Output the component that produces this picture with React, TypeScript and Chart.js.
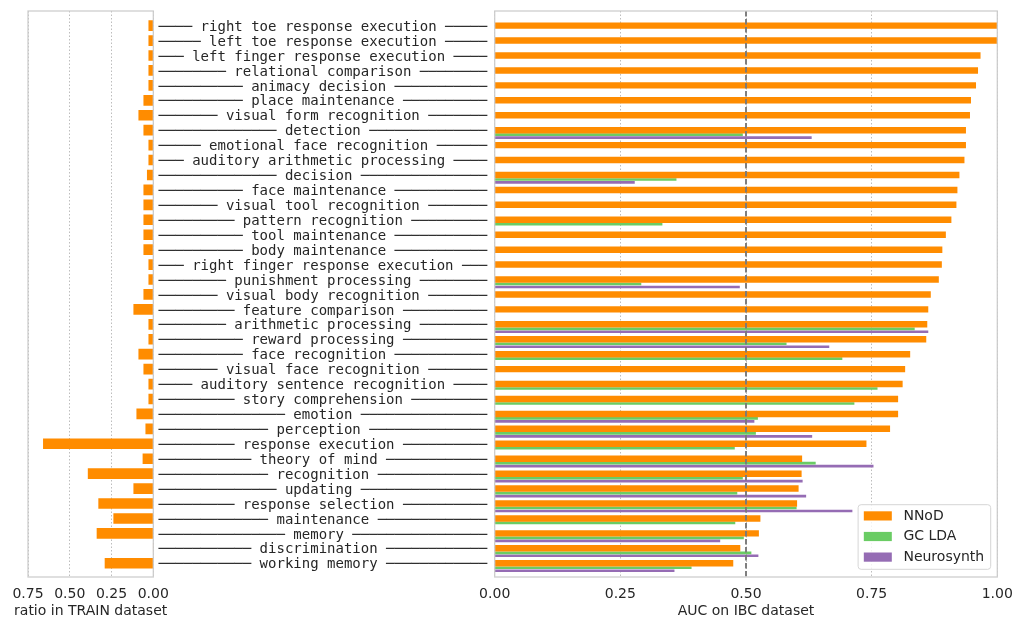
import React, { useEffect, useRef } from "react";
import { Chart, registerables } from "chart.js";

Chart.register(...registerables);

const categories = [
  "right toe response execution",
  "left toe response execution",
  "left finger response execution",
  "relational comparison",
  "animacy decision",
  "place maintenance",
  "visual form recognition",
  "detection",
  "emotional face recognition",
  "auditory arithmetic processing",
  "decision",
  "face maintenance",
  "visual tool recognition",
  "pattern recognition",
  "tool maintenance",
  "body maintenance",
  "right finger response execution",
  "punishment processing",
  "visual body recognition",
  "feature comparison",
  "arithmetic processing",
  "reward processing",
  "face recognition",
  "visual face recognition",
  "auditory sentence recognition",
  "story comprehension",
  "emotion",
  "perception",
  "response execution",
  "theory of mind",
  "recognition",
  "updating",
  "response selection",
  "maintenance",
  "memory",
  "discrimination",
  "working memory",
];

const trainRatio = [
  0.027, 0.027, 0.027, 0.027, 0.027, 0.057, 0.087, 0.057, 0.027, 0.027,
  0.036, 0.057, 0.057, 0.057, 0.057, 0.057, 0.027, 0.027, 0.057, 0.117,
  0.027, 0.027, 0.087, 0.057, 0.027, 0.027, 0.099, 0.045, 0.658, 0.062,
  0.39, 0.117, 0.327, 0.237, 0.337, 0.0, 0.289,
];

const nnod = [
  1.0, 1.0, 0.966, 0.961, 0.957, 0.947, 0.945, 0.937, 0.937, 0.934,
  0.924, 0.92, 0.918, 0.908, 0.897, 0.89, 0.889, 0.883, 0.867, 0.862,
  0.86, 0.858, 0.826, 0.816, 0.811, 0.802, 0.802, 0.786, 0.739, 0.611,
  0.61, 0.604, 0.601, 0.528, 0.525, 0.488, 0.474,
];

const gclda: (number | null)[] = [
  null, null, null, null, null, null, null, 0.493, null, null,
  0.361, null, null, 0.333, null, null, null, 0.291, null, null,
  0.835, 0.58, 0.691, null, 0.761, 0.715, 0.523, 0.519, 0.477, 0.638,
  0.493, 0.482, 0.6, 0.478, 0.495, 0.51, 0.391,
];

const neurosynth: (number | null)[] = [
  null, null, null, null, null, null, null, 0.63, null, null,
  0.278, null, null, null, null, null, null, 0.487, null, null,
  0.862, 0.665, null, null, null, null, 0.516, 0.631, null, 0.753,
  0.612, 0.619, 0.711, null, 0.448, 0.524, 0.357,
];

const trainTicks = [0, 0.25, 0.5, 0.75];
const aucTicks = [0, 0.25, 0.5, 0.75, 1.0];
const chanceLevel = 0.5;
const seriesNames = ["NNoD", "GC LDA", "Neurosynth"];
const seriesColors = ["#ff8c00", "#6acc64", "#956cb4"];
const seriesOffsets = [0, 0.3, 0.5];
const seriesThickness = [5.8, 2, 2];
const leftTitle = "ratio in TRAIN dataset";
const rightTitle = "AUC on IBC dataset";

const TEXT = "#262626";
const FRAME = "#cccccc";
const GRID = "#bdbdbd";
const Y_MIN = -0.98;
const Y_MAX = 36.92;
const LABEL_WIDTH = 39;

function padLabel(s: string) {
  const core = " " + s + " ";
  const pad = Math.max(0, LABEL_WIDTH - core.length);
  const l = Math.floor(pad / 2);
  return "\u2500".repeat(l) + core + "\u2500".repeat(pad - l);
}

const framePlugin = {
  id: "frame",
  afterDatasetsDraw(chart: any) {
    const { ctx, chartArea: a } = chart;
    const opts = chart.options.plugins.frame || {};
    ctx.save();
    if (opts.chance !== undefined) {
      const x = chart.scales.x.getPixelForValue(opts.chance);
      ctx.strokeStyle = "#7a7a7a";
      ctx.lineWidth = 1.9;
      ctx.setLineDash([5.6, 2.4]);
      ctx.beginPath();
      ctx.moveTo(x, a.top);
      ctx.lineTo(x, a.bottom);
      ctx.stroke();
      ctx.setLineDash([]);
    }
    ctx.strokeStyle = FRAME;
    ctx.lineWidth = 1.25;
    ctx.strokeRect(a.left, a.top, a.right - a.left, a.bottom - a.top);
    ctx.font = '14px "DejaVu Sans"';
    ctx.fillStyle = TEXT;
    if (opts.title) {
      ctx.textAlign = "center";
      ctx.textBaseline = "middle";
      ctx.fillText(opts.title, (a.left + a.right) / 2, 611.5);
    }
    if (opts.legend) {
      const textW = Math.max(...seriesNames.map((n) => ctx.measureText(n).width));
      const boxW = 5.7 + 28 + 11.6 + textW + 6.5;
      const boxH = 64.6;
      const right = a.right - 6.6;
      const bottom = a.bottom - 7.7;
      const left = right - boxW;
      const top = bottom - boxH;
      ctx.beginPath();
      ctx.roundRect(left, top, boxW, boxH, 3);
      ctx.fillStyle = "rgba(255,255,255,0.8)";
      ctx.fill();
      ctx.strokeStyle = "#d6d6d6";
      ctx.lineWidth = 1;
      ctx.stroke();
      seriesNames.forEach((n, i) => {
        const cy = top + 11.2 + i * 20.6;
        ctx.fillStyle = seriesColors[i];
        ctx.fillRect(left + 5.7, cy - 4.6, 28, 9.2);
        ctx.fillStyle = TEXT;
        ctx.textBaseline = "middle";
        ctx.textAlign = "left";
        ctx.fillText(n, left + 5.7 + 28 + 11.6, cy);
      });
    }
    ctx.restore();
  },
};

const tickFont = { family: "DejaVu Sans", size: 14, lineHeight: 1.2 };

function xAxis(ticksArr: number[], reverse: boolean, extra: any) {
  return {
    type: "linear",
    reverse,
    ...extra,
    afterBuildTicks: (scale: any) => {
      scale.ticks = ticksArr.map((v) => ({ value: v }));
    },
    afterFit: (scale: any) => {
      scale.height = 47;
    },
    ticks: {
      font: tickFont,
      color: TEXT,
      padding: 0,
      callback: (v: any) => Number(v).toFixed(2),
    },
    grid: {
      display: true,
      color: GRID,
      lineWidth: 1,
      drawTicks: true,
      tickLength: 8.5,
      tickColor: "rgba(0,0,0,0)",
    },
    border: { display: false, dash: [1.5, 2] },
    title: { display: false },
  };
}

export default function App() {
  const leftRef = useRef<HTMLCanvasElement>(null);
  const rightRef = useRef<HTMLCanvasElement>(null);

  useEffect(() => {
    document.body.style.margin = "0";

    const right = new Chart(rightRef.current!, {
      type: "bar",
      data: {
        datasets: [nnod, gclda, neurosynth].map((arr, k) => ({
          label: seriesNames[k],
          data: arr
            .map((v, i) => (v == null ? null : { x: v, y: i + seriesOffsets[k] }))
            .filter((p) => p !== null) as any,
          backgroundColor: seriesColors[k],
          borderWidth: 0,
          barThickness: seriesThickness[k],
          grouped: false,
        })),
      },
      options: {
        indexAxis: "y",
        responsive: false,
        animation: false,
        layout: { padding: { left: 0, right: 1014 - 997.3, top: 11, bottom: 0 } },
        scales: {
          x: xAxis(aucTicks, false, { min: 0, max: 1 }),
          y: {
            type: "linear",
            offset: false,
            min: Y_MIN,
            max: Y_MAX,
            reverse: true,
            afterBuildTicks: (scale: any) => {
              scale.ticks = categories.map((_, i) => ({ value: i }));
            },
            afterFit: (scale: any) => {
              scale.width = 494.7;
            },
            ticks: {
              autoSkip: false,
              font: { family: "DejaVu Sans Mono", size: 14, lineHeight: 1.2 },
              color: TEXT,
              padding: 0,
              labelOffset: 1.5,
              callback: (_v: any, i: number) => padLabel(categories[i]),
            },
            grid: { display: false, drawTicks: true, tickLength: 7.5, offset: false },
            border: { display: false },
          },
        } as any,
        plugins: {
          legend: { display: false },
          tooltip: { enabled: false },
          frame: { chance: chanceLevel, legend: true, title: rightTitle },
        } as any,
      },
      plugins: [framePlugin],
    });

    const left = new Chart(leftRef.current!, {
      type: "bar",
      data: {
        datasets: [
          {
            label: leftTitle,
            data: trainRatio.map((v, i) => ({ x: v, y: i })) as any,
            backgroundColor: seriesColors[0],
            borderWidth: 0,
            barThickness: 10,
            grouped: false,
          },
        ],
      },
      options: {
        indexAxis: "y",
        responsive: false,
        animation: false,
        layout: { padding: { left: 28, right: 200 - 153.3, top: 11, bottom: 0 } },
        scales: {
          x: xAxis(trainTicks, true, { min: 0, max: 0.75 }),
          y: {
            type: "linear",
            display: false,
            offset: false,
            min: Y_MIN,
            max: Y_MAX,
            reverse: true,
          },
        } as any,
        plugins: {
          legend: { display: false },
          tooltip: { enabled: false },
          frame: { title: leftTitle },
        } as any,
      },
      plugins: [framePlugin],
    });

    return () => {
      right.destroy();
      left.destroy();
    };
  }, []);

  return (
    <div style={{ position: "fixed", left: 0, top: 0, width: 1014, height: 624, background: "#fff" }}>
      <canvas
        ref={rightRef}
        width={1014}
        height={624}
        style={{ position: "absolute", left: 0, top: 0, width: 1014, height: 624 }}
      />
      <canvas
        ref={leftRef}
        width={200}
        height={624}
        style={{ position: "absolute", left: 0, top: 0, width: 200, height: 624 }}
      />
    </div>
  );
}
